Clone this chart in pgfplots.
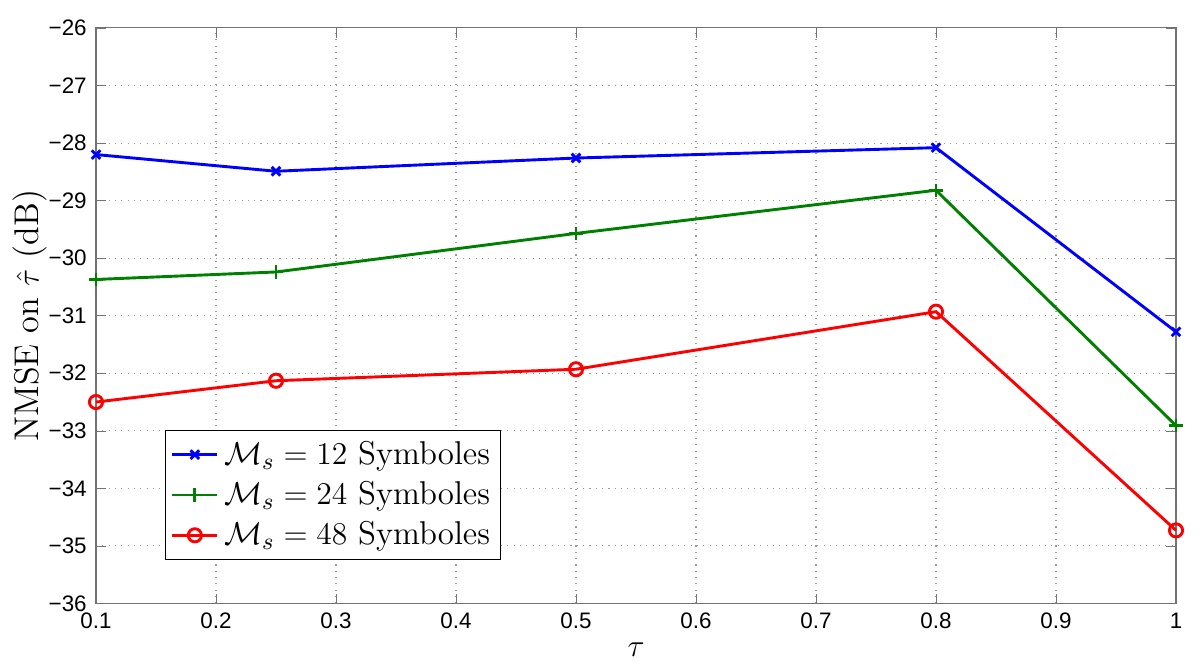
\documentclass[border=0pt]{standalone}
\usepackage{pgfplots}
\pgfplotsset{compat=1.18}
\usepackage{fontspec}
\newfontfamily\helv{Liberation Sans}
\usepackage{amsmath}
\definecolor{mblue}{RGB}{0,0,255}
\definecolor{mgreen}{RGB}{0,128,0}
\definecolor{mred}{RGB}{255,0,0}

\begin{document}
\begin{tikzpicture}
\begin{axis}[
  scale only axis,
  width=14.4cm, height=7.673cm,
  xmin=0.1, xmax=1, ymin=-36, ymax=-26,
  xtick={0.1,0.2,0.3,0.4,0.5,0.6,0.7,0.8,0.9,1},
  xticklabels={0.1,0.2,0.3,0.4,0.5,0.6,0.7,0.8,0.9,1},
  ytick={-36,-35,-34,-33,-32,-31,-30,-29,-28,-27,-26},
  yticklabels={−36,−35,−34,−33,−32,−31,−30,−29,−28,−27,−26},
  tick label style={font=\helv\fontsize{8.5}{10}\selectfont, black},
  axis line style={black!55},
  tick style={black!55},
  tick align=inside, major tick length=0.13cm,
  grid=major, grid style={dotted, black!40, line width=0.4pt},
  xlabel={$\tau$}, ylabel={NMSE on $\hat{\tau}$ (dB)},
  label style={font=\fontsize{13}{15}\selectfont},
  xlabel style={at={(axis description cs:0.5,-0.081)}, anchor=center},
  ylabel style={at={(axis description cs:-0.061,0.5)}, anchor=center, rotate=0},
  legend style={at={(axis description cs:0.064,0.0756)}, anchor=south west,
    font=\fontsize{12.5}{15}\selectfont, draw=black, fill=white,
    inner sep=2pt, row sep=1pt},
  legend cell align=left,
  clip=false,
]
\addplot[mblue, line width=1.1pt, mark=x, mark size=2.3pt, mark options={solid}]
  coordinates {(0.1,-28.20)(0.25,-28.49)(0.5,-28.26)(0.8,-28.08)(1,-31.28)};
\addlegendentry{$\mathcal{M}_s = 12$ Symboles}
\addplot[mgreen, line width=1.1pt, mark=+, mark size=2.5pt, mark options={solid}]
  coordinates {(0.1,-30.37)(0.25,-30.24)(0.5,-29.57)(0.8,-28.82)(1,-32.91)};
\addlegendentry{$\mathcal{M}_s = 24$ Symboles}
\addplot[mred, line width=1.1pt, mark=o, mark size=2.5pt, mark options={solid}]
  coordinates {(0.1,-32.50)(0.25,-32.13)(0.5,-31.93)(0.8,-30.93)(1,-34.73)};
\addlegendentry{$\mathcal{M}_s = 48$ Symboles}
\end{axis}
\pgfresetboundingbox
\path[use as bounding box] ([shift={(-1.28cm,-0.873cm)}]current axis.south west)
  rectangle ([shift={(0.32cm,0.373cm)}]current axis.north east);
\end{tikzpicture}
\end{document}
